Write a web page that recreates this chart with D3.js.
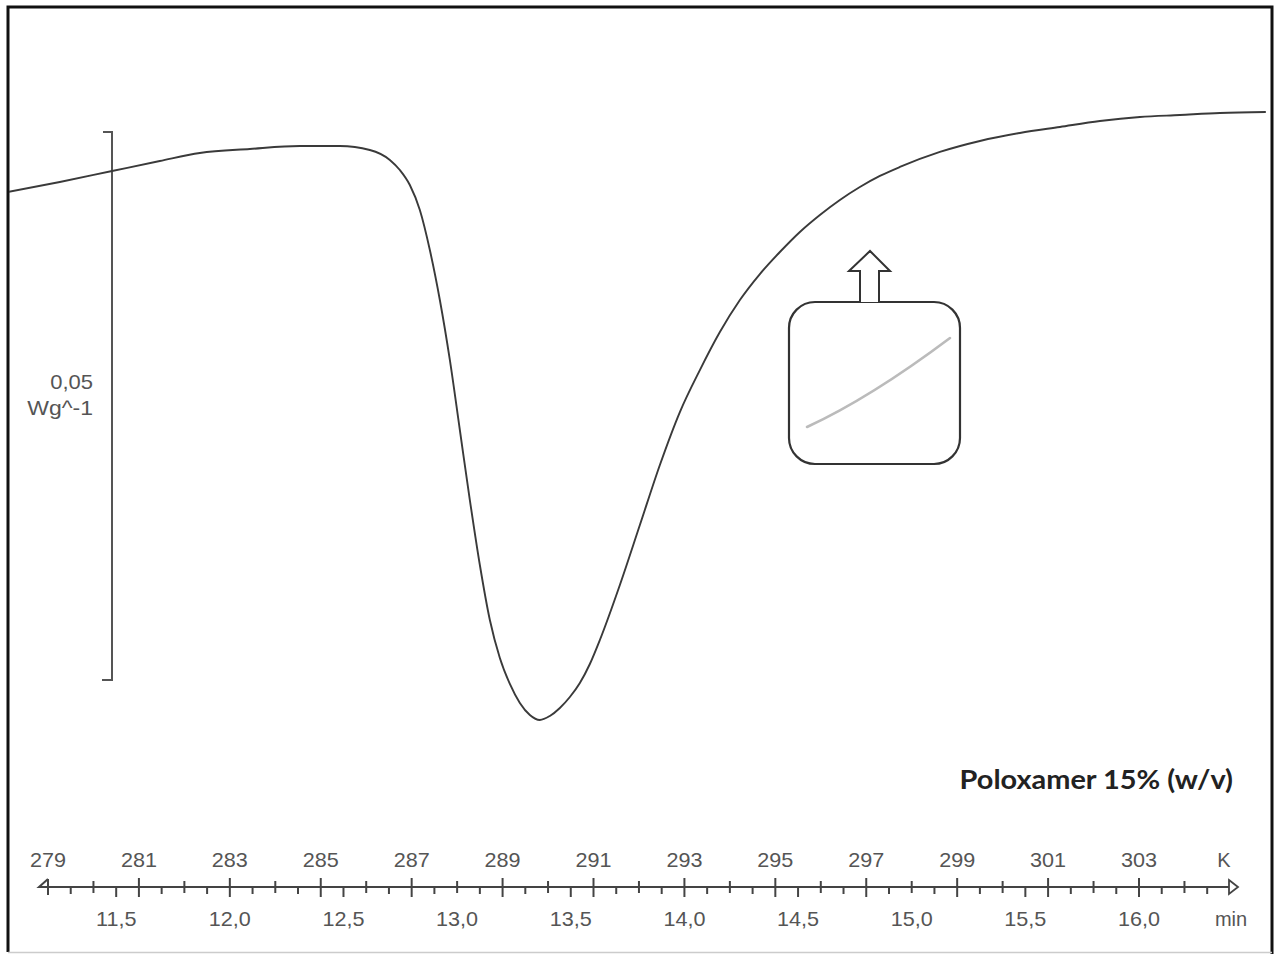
<!DOCTYPE html>
<html>
<head>
<meta charset="utf-8">
<script src="https://cdn.jsdelivr.net/npm/d3@7"></script>
<style>
  html, body { margin: 0; padding: 0; background: #fff; }
  svg { display: block; }
  .lbl { font-family: "Liberation Sans", Arial, sans-serif; fill: #555; font-size: 20px; }
</style>
</head>
<body>
<svg width="1274" height="954"></svg>
<script>
// DSC trace: temperature (K) and heat flow (W/g)
var temperatureK = [
  278.12, 279.26, 280.41, 281.46, 282.34, 283.44, 284.54, 285.42, 286.08, 286.52,
  286.74, 286.96, 287.18, 287.40, 287.62, 287.84, 288.06, 288.28, 288.50, 288.72,
  288.94, 289.16, 289.38, 289.60, 289.82, 290.04, 290.26, 290.48, 290.70, 290.92,
  291.14, 291.58, 292.02, 292.46, 292.90, 293.34, 293.78, 294.22, 294.66, 295.10,
  295.54, 295.98, 296.42, 296.86, 297.30, 297.74, 298.62, 299.50, 300.38, 301.26,
  302.14, 303.02, 303.90, 304.78, 305.79
];
var heatFlow = [
  -0.00547, -0.00456, -0.00356, -0.00265, -0.00192, -0.00155, -0.00128, -0.00128, -0.00164, -0.00255,
  -0.00347, -0.00484, -0.00712, -0.01077, -0.01533, -0.02080, -0.02719, -0.03358, -0.03951, -0.04453,
  -0.04799, -0.05036, -0.05209, -0.05319, -0.05365, -0.05328, -0.05255, -0.05155, -0.05027, -0.04854,
  -0.04635, -0.04133, -0.03586, -0.03038, -0.02555, -0.02172, -0.01825, -0.01533, -0.01296, -0.01095,
  -0.00912, -0.00757, -0.00620, -0.00502, -0.00401, -0.00319, -0.00182, -0.00082, -0.00009, 0.00046,
  0.00100, 0.00137, 0.00155, 0.00173, 0.00182
];

// axis labels
var kelvinLabels = [279, 281, 283, 285, 287, 289, 291, 293, 295, 297, 299, 301, 303];
var minuteLabels = [11.5, 12.0, 12.5, 13.0, 13.5, 14.0, 14.5, 15.0, 15.5, 16.0];
var scaleBar = [0, -0.05];     // 0,05 Wg^-1 bar
var title = "Poloxamer 15% (w/v)";

var svg = d3.select("svg"),
    axisY = 887,
    xK = d3.scaleLinear().domain([279, 303]).range([48, 1139]),
    // 5 K per minute: 12,0 min at 283 K
    xMin = d3.scaleLinear().domain([12.0, 16.0]).range([xK(283), xK(303)]),
    y = d3.scaleLinear().domain(scaleBar).range([132, 680])
;

// text in the original is a little stretched sideways
function stretch(sel, sx) {
    var x = +sel.attr("x"), yy = +sel.attr("y");
    sel.attr("transform", "translate(" + x + "," + yy + ") scale(" + sx + ",1) translate(" + (-x) + "," + (-yy) + ")");
}

// frame
svg.append("path")
    .attr("d", "M8,952 V7 H1272 V954")
    .attr("fill", "none")
    .attr("stroke", "#111")
    .attr("stroke-width", 3);
svg.append("line")
    .attr("x1", 8).attr("x2", 1272).attr("y1", 952.5).attr("y2", 952.5)
    .attr("stroke", "#ccc").attr("stroke-width", 1.5);

// scale bar on the left
var yTop = y(scaleBar[0]), yBot = y(scaleBar[1]);
svg.append("path")
    .attr("d", "M103," + yTop + " H112 V" + yBot + " H102")
    .attr("fill", "none")
    .attr("stroke", "#555")
    .attr("stroke-width", 2);
svg.append("text").attr("class", "lbl")
    .attr("x", 93).attr("y", 389).attr("text-anchor", "end")
    .text("0,05")
    .call(stretch, 1.1);
svg.append("text").attr("class", "lbl")
    .attr("x", 93).attr("y", 415).attr("text-anchor", "end")
    .text("Wg^-1")
    .call(stretch, 1.15);

// the curve
var points = temperatureK.map((t, i) => [t, heatFlow[i]]);
svg.append("defs").append("clipPath").attr("id", "clip")
    .append("rect").attr("x", 9).attr("y", 8).attr("width", 1262).attr("height", 940);
svg.append("path")
    .datum(points)
    .attr("clip-path", "url(#clip)")
    .attr("fill", "none")
    .attr("stroke", "#3a3a3a")
    .attr("stroke-width", 1.9)
    .attr("d", d3.line()
        .x(d => xK(d[0]))
        .y(d => y(d[1]))
        .curve(d3.curveMonotoneX));

// inset: sample vial with an arrow
var inset = svg.append("g");
inset.append("rect")
    .attr("x", 789).attr("y", 302).attr("width", 171).attr("height", 162)
    .attr("rx", 26)
    .attr("fill", "#fff")
    .attr("stroke", "#333")
    .attr("stroke-width", 2.2);
inset.append("path")
    .attr("d", "M860,302 V271 H849 L870,251 L890,271 H879 V302")
    .attr("fill", "#fff")
    .attr("stroke", "#333")
    .attr("stroke-width", 2);
inset.append("path")
    .attr("d", "M807,427 Q870,398 950,338")
    .attr("fill", "none")
    .attr("stroke", "#bbb")
    .attr("stroke-width", 2.6)
    .attr("stroke-linecap", "round");

// sample name
svg.append("text")
    .attr("x", 1233).attr("y", 789)
    .attr("text-anchor", "end")
    .style("font-family", "Lato, 'Open Sans', sans-serif")
    .style("font-weight", "bold")
    .style("font-size", "27px")
    .style("fill", "#222")
    .text(title)
    .call(stretch, 1.07);

// bottom axis: temperature on top, time underneath
var ax = svg.append("g").attr("stroke", "#444");
ax.append("line")
    .attr("x1", 40).attr("x2", 1230)
    .attr("y1", axisY).attr("y2", axisY)
    .attr("stroke-width", 2);
ax.append("path")
    .attr("d", "M" + xK(279) + ",879 L39," + axisY + " H" + xK(279) + " M" + xK(279) + ",879 V895")
    .attr("fill", "none").attr("stroke-width", 2);
ax.append("path")
    .attr("d", "M1229,880 L1238," + axisY + " L1229,894 Z")
    .attr("fill", "#fff").attr("stroke-width", 1.8);

// one tick per kelvin, long ones where labelled
d3.range(280, 305).forEach(k => {
    var big = kelvinLabels.includes(k);
    ax.append("line")
        .attr("x1", xK(k)).attr("x2", xK(k))
        .attr("y1", axisY - (big ? 9 : 6)).attr("y2", axisY + (big ? 10 : 6))
        .attr("stroke-width", 2);
});
// time ticks every 0,1 min that fall between the kelvin ticks
d3.range(11.3, 16.35, 0.2).forEach(m => {
    var lab = minuteLabels.some(v => Math.abs(v - m) < 0.01);
    ax.append("line")
        .attr("x1", xMin(m)).attr("x2", xMin(m))
        .attr("y1", axisY).attr("y2", axisY + (lab ? 10 : 7))
        .attr("stroke-width", 2);
});

svg.selectAll(".klab")
    .data(kelvinLabels)
    .enter().append("text")
    .attr("class", "lbl")
    .attr("x", d => xK(d))
    .attr("y", 867)
    .attr("text-anchor", "middle")
    .text(d => d)
    .each(function() { stretch(d3.select(this), 1.08); });
svg.append("text").attr("class", "lbl")
    .attr("x", 1224).attr("y", 867).attr("text-anchor", "middle")
    .text("K");

svg.selectAll(".mlab")
    .data(minuteLabels)
    .enter().append("text")
    .attr("class", "lbl")
    .attr("x", d => xMin(d))
    .attr("y", 926)
    .attr("text-anchor", "middle")
    .text(d => d.toFixed(1).replace(".", ","))
    .each(function() { stretch(d3.select(this), 1.08); });
svg.append("text").attr("class", "lbl")
    .attr("x", 1231).attr("y", 926).attr("text-anchor", "middle")
    .text("min");
</script>
</body>
</html>
